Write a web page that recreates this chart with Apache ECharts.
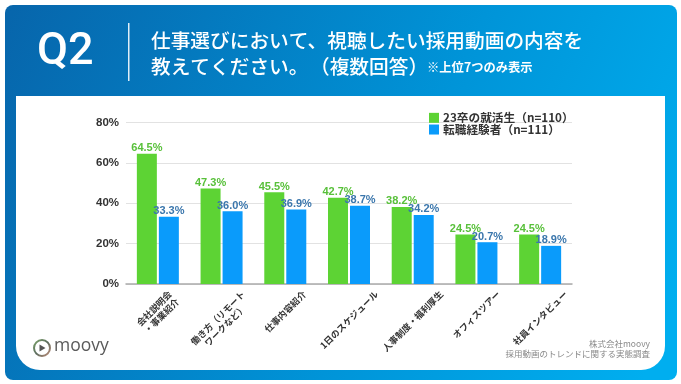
<!DOCTYPE html>
<html><head><meta charset="utf-8">
<style>html,body{margin:0;padding:0;background:#fff}#c{width:681px;height:384px}</style>
<script src="https://cdn.jsdelivr.net/npm/echarts@6/dist/echarts.min.js"></script>
</head><body><div id="c"></div>
<script>
const categories = ['会社説明会\n・事業紹介','働き方（リモート\nワークなど）','仕事内容紹介','1日のスケジュール','人事制度・福利厚生','オフィスツアー','社員インタビュー'];
const newGrad = [64.5,47.3,45.5,42.7,38.2,24.5,24.5];
const career = [33.3,36.0,36.9,38.7,34.2,20.7,18.9];
const seriesNames = ['23卒の就活生（n=110）','転職経験者（n=111）'];
const yTicks = [0,20,40,60,80];
const titleLine1 = '仕事選びにおいて、視聴したい採用動画の内容を';
const titleLine2a = '教えてください。';
const titleLine2b = '（複数回答）';
const note = '※上位7つのみ表示';
const sourceLines = ['株式会社moovy','採用動画のトレンドに関する実態調査'];
const jp = '"Noto Sans CJK JP"';
const lat = '"Liberation Sans"';
const labelSize = 9, labelLH = 10.5;
const mctx = document.createElement('canvas').getContext('2d');
mctx.font = '700 '+labelSize+'px '+jp;
// Each label is centred under its category, with the rotated tops level just under the axis.
const catData = categories.map(t=>{
  const lines = t.split('\n');
  const L = Math.max(...lines.map(s=>mctx.measureText(s).width));
  const H = lines.length*labelLH;
  const d = 8.5 + 0.354*L + 0.354*(H-labelLH);
  return {value:t,textStyle:{align:'center',verticalAlign:'top',padding:[0.707*d-H/2,1.414*d,0,0]}};
});
const chart = echarts.init(document.getElementById('c'),null,{renderer:'canvas'});
chart.setOption({
  animation:false,
  backgroundColor:'#fff',
  grid:{left:126,right:109,top:122.5,bottom:100,containLabel:false,z:5},
  legend:{left:424,top:107,orient:'vertical',itemWidth:10,itemHeight:10,itemGap:0,icon:'rect',z:6,
    data:seriesNames,textStyle:{fontFamily:jp,fontSize:11.7,fontWeight:700,color:'#333',lineHeight:11,padding:[0,0,0,-1]}},
  xAxis:{type:'category',data:catData,
    axisTick:{show:false},axisLine:{lineStyle:{color:'#aaa',width:1.5}},
    axisLabel:{interval:0,rotate:45,margin:0,fontFamily:jp,fontSize:labelSize,fontWeight:700,color:'#333',lineHeight:labelLH}},
  yAxis:{type:'value',min:0,max:80,interval:20,
    axisLine:{show:false},axisTick:{show:false},
    splitLine:{lineStyle:{color:'#e2e2e2',width:1}},
    axisLabel:{margin:7,fontFamily:lat,fontSize:11.5,fontWeight:'bold',color:'#333',formatter:v=>yTicks.includes(v)?v+'%':''}},
  series:[
    {name:seriesNames[0],type:'bar',data:newGrad,barWidth:20,barGap:'10%',itemStyle:{color:'#5dd334'},z:3,
     label:{show:true,position:'top',distance:0,formatter:p=>p.value.toFixed(1)+'%',fontFamily:lat,fontSize:11,fontWeight:'bold',color:'#58c03a'}},
    {name:seriesNames[1],type:'bar',data:career,barWidth:20,itemStyle:{color:'#0a9bfb'},z:3,
     label:{show:true,position:'top',distance:0,formatter:p=>p.value.toFixed(1)+'%',fontFamily:lat,fontSize:11,fontWeight:'bold',color:'#3a76ac'}}
  ],
  graphic:[
    {type:'rect',z:-10,shape:{x:5,y:5,width:672,height:375,r:8},
     style:{fill:new echarts.graphic.LinearGradient(0,0,1,0.8,[{offset:0,color:'#0765ab'},{offset:0.6,color:'#0094d8'},{offset:1,color:'#00aeef'}])}},
    {type:'rect',z:-9,shape:{x:16,y:96,width:649,height:274,r:[0,0,24,24]},style:{fill:'#fff'}},
    {type:'text',z:10,x:37,y:30,style:{text:'Q2',fill:'#fff',font:'500 45px Roboto',textBaseline:'top'}},
    {type:'rect',z:10,shape:{x:128,y:23,width:1.5,height:58},style:{fill:'#dfeef8'}},
    {type:'text',z:10,x:151,y:31,style:{text:titleLine1,fill:'#fff',font:'500 19.7px '+jp,textBaseline:'top'}},
    {type:'text',z:10,x:151,y:57,style:{text:titleLine2a,fill:'#fff',font:'500 19.7px '+jp,textBaseline:'top'}},
    {type:'text',z:10,x:310,y:57,style:{text:titleLine2b,fill:'#fff',font:'500 19.7px '+jp,textBaseline:'top'}},
    {type:'text',z:10,x:427,y:61,style:{text:note,fill:'#fff',font:'700 12.3px '+jp,textBaseline:'top'}},
    {type:'text',z:10,x:650,y:340,style:{text:sourceLines[0],fill:'#888',font:'8.5px '+jp,textAlign:'right',textBaseline:'top'}},
    {type:'text',z:10,x:650,y:350,style:{text:sourceLines[1],fill:'#888',font:'8.5px '+jp,textAlign:'right',textBaseline:'top'}},
    {type:'circle',z:10,shape:{cx:42,cy:348,r:8},style:{fill:'#fff',lineWidth:2,
      stroke:new echarts.graphic.LinearGradient(0,0,1,1,[{offset:0,color:'#7fa86a'},{offset:0.5,color:'#5b6b5e'},{offset:1,color:'#c98f7a'}])}},
    {type:'polygon',z:11,shape:{points:[[39.5,344.5],[39.5,351.5],[45.5,348]]},style:{fill:'#555'}},
    {type:'text',z:10,x:54,y:337,style:{text:'moovy',fill:'#5a5a5a',font:'500 17.5px "Open Sans"',textBaseline:'top'}}
  ]
});
</script></body></html>
